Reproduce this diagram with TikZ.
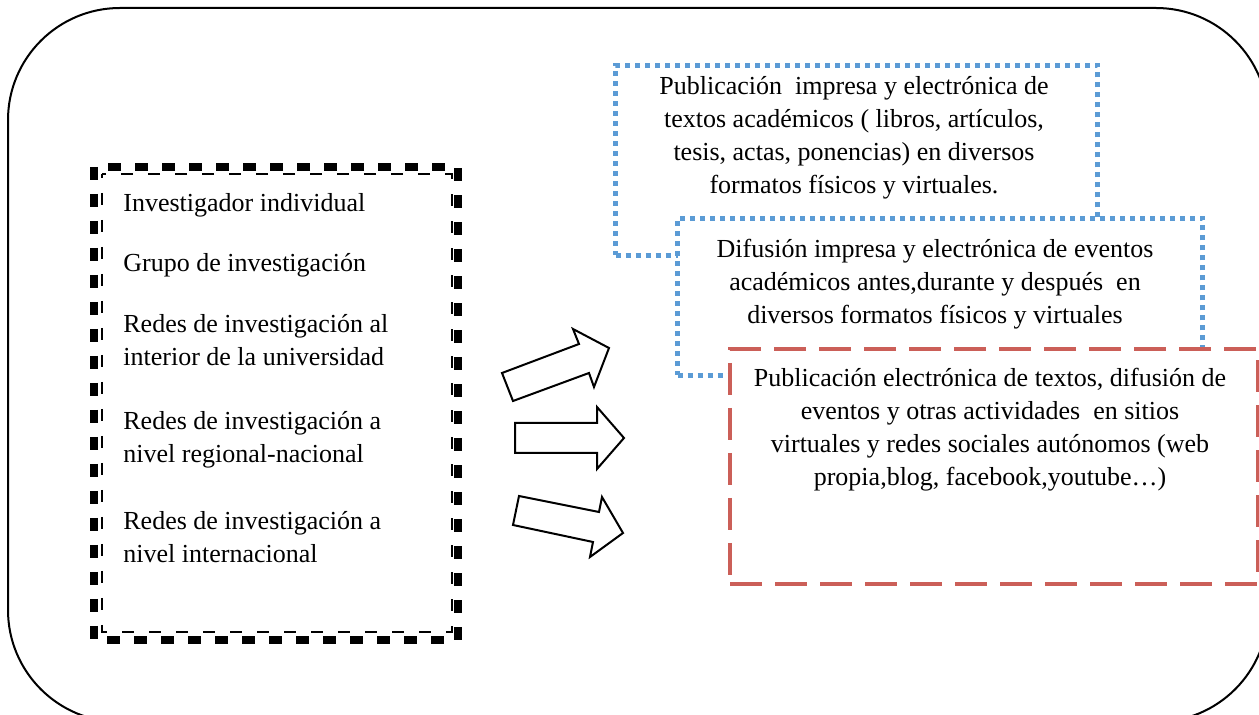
\documentclass[tikz,border=0pt]{standalone}
\usepackage{fontspec}
\setmainfont{Liberation Serif}
\usetikzlibrary{positioning}

\definecolor{dotblue}{RGB}{91,155,213}
\definecolor{dashred}{RGB}{203,95,88}

\tikzset{
  frame/.style={draw=black, line width=1pt, rounded corners=56pt},
  thickdash/.style={draw=black, line width=4pt, dash pattern=on 6.5pt off 7pt},
  thindash/.style={draw=black, line width=1pt, dash pattern=on 6pt off 7.5pt, dash phase=4pt},
  item/.style={anchor=west, inner sep=0pt, align=left, font=\fontsize{13}{16.5}\selectfont},
  dotbox/.style={draw=dotblue, line width=2.5pt, dash pattern=on 2.5pt off 2.5pt,
    fill=white, anchor=north west, inner sep=0pt},
  dashbox/.style={draw=dashred, line width=2pt, dash pattern=on 16pt off 6.5pt,
    fill=white, anchor=north west, inner sep=0pt},
  boxtext/.style={inner sep=0pt, align=center, font=\fontsize{13}{16.5}\selectfont},
  blockarrow/.style={draw=black, line width=1pt, fill=white, line join=miter}
}

\begin{document}
\begin{tikzpicture}[x=0.5pt, y=-0.5pt]
\useasboundingbox (0,0) rectangle (1259,715);
\clip (0,0) rectangle (1259,715);

% outer frame
\draw[frame] (8,8) rectangle (1268,722);

% left box
\draw[thickdash] (94,167) rectangle (458,640);
\draw[thindash] (102,174) rectangle (452,632);

\node[item] (indiv) at (123,205) {Investigador individual};
\node[item] (grupo) at (123,265) {Grupo de investigación};
\node[item] (redint) at (123,340) {Redes de investigación al\\interior de la universidad};
\node[item] (rednac) at (123,440) {Redes de investigación a\\nivel regional-nacional};
\node[item] (redinter) at (123,537) {Redes de investigación a\\nivel internacional};

% block arrows
\draw[blockarrow] (502,373) -- (579,344) -- (573,329) -- (609,348)
  -- (594,387) -- (589,373) -- (513,401) -- cycle;
\draw[blockarrow] (515,423) -- (597,423) -- (597,407) -- (624,438)
  -- (597,469) -- (597,453) -- (515,453) -- cycle;
\draw[blockarrow] (519,496) -- (599,512) -- (602,497) -- (623,533)
  -- (590,557) -- (593,542) -- (513,525) -- cycle;

% right boxes
\node[dotbox, minimum width=241pt, minimum height=95pt] (pub) at (613,63) {};
\node[boxtext] (pubtext) at (854,138) {Publicación~ impresa y electrónica de\\
  textos académicos ( libros, artículos,\\
  tesis, actas, ponencias) en diversos\\
  formatos físicos y virtuales.};

\node[dotbox, minimum width=262.5pt, minimum height=78.5pt] (dif) at (675,216) {};
\node[boxtext] (diftext) at (935,284) {Difusión impresa y electrónica de eventos\\
  académicos antes,durante y después~ en\\
  diversos formatos físicos y virtuales};

\node[dashbox, minimum width=264pt, minimum height=117.5pt] (web) at (728,347) {};
\node[boxtext] (webtext) at (990,430) {Publicación electrónica de textos, difusión de\\
  eventos y otras actividades~ en sitios\\
  virtuales y redes sociales autónomos (web\\
  propia,blog, facebook,youtube…)};
\end{tikzpicture}
\end{document}
